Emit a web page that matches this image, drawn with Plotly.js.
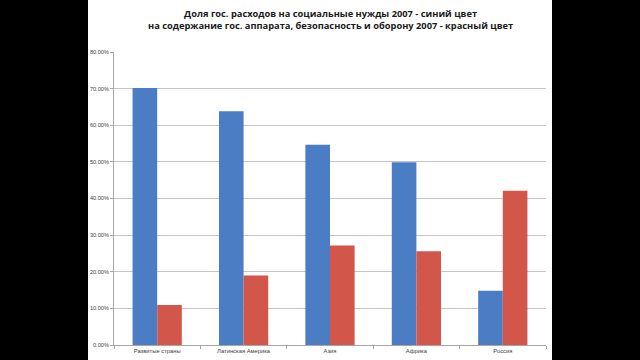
<!DOCTYPE html>
<html>
<head>
<meta charset="utf-8">
<script src="https://cdn.plot.ly/plotly-3.0.1.min.js"></script>
<style>html,body{margin:0;padding:0;background:#fff;}#chart{width:640px;height:360px;}</style>
</head>
<body>
<div id="chart"></div>
<script>
const categories = ["Развитые страны", "Латинская Америка", "Азия", "Африка", "Россия"];
const socialShare = [0.702, 0.638, 0.547, 0.499, 0.148];
const stateDefenseShare = [0.109, 0.190, 0.272, 0.256, 0.421];
const yTickVals = [0, 0.1, 0.2, 0.3, 0.4, 0.5, 0.6, 0.7, 0.8];
const yTickText = ["0.00%", "10.00%", "20.00%", "30.00%", "40.00%", "50.00%", "60.00%", "70.00%", "80.00%"];
const titleLines = ["Доля гос. расходов на социальные нужды 2007 - синий цвет",
                    "на содержание гос. аппарата, безопасность и оборону 2007 - красный цвет"];

const traces = [
  {type: "bar", x: categories, y: socialShare, marker: {color: "#4a7dc4"}, name: "social"},
  {type: "bar", x: categories, y: stateDefenseShare, marker: {color: "#d2574a"}, name: "defense"}
];

const layout = {
  width: 640, height: 360,
  margin: {l: 114, r: 94, t: 52, b: 15},
  paper_bgcolor: "#ffffff",
  plot_bgcolor: "#ffffff",
  showlegend: false,
  barmode: "group",
  bargap: 0.43,
  bargroupgap: 0,
  font: {family: "Liberation Sans, Arial, sans-serif", color: "#404040"},
  annotations: [{
    text: "<b>" + titleLines[0] + "</b><br><b>" + titleLines[1] + "</b>",
    xref: "paper", yref: "paper", x: 0.5, xanchor: "center",
    y: (345 - 5) / 293, yanchor: "top", showarrow: false,
    font: {size: 9.3, color: "#1a1a1a", family: "Open Sans, Liberation Sans, sans-serif"}
  }],
  xaxis: {
    type: "category",
    showline: true, linecolor: "#a6a6a6", linewidth: 1,
    ticks: "outside", ticklen: 3, tickcolor: "#a6a6a6",
    tickson: "boundaries",
    tickfont: {size: 5.8, color: "#404040"},
    showgrid: false
  },
  yaxis: {
    range: [0, 0.8],
    tickvals: yTickVals, ticktext: yTickText,
    showline: true, linecolor: "#a6a6a6", linewidth: 1,
    ticks: "outside", ticklen: 3, tickcolor: "#a6a6a6",
    showgrid: true, gridcolor: "#c4c4c4", gridwidth: 1,
    zeroline: false,
    tickfont: {size: 5.6, color: "#404040"}
  },
  shapes: [
    {type: "rect", xref: "paper", yref: "paper", x0: -0.4, x1: (88 - 114) / 432, y0: -0.2, y1: 1.3,
     fillcolor: "#000000", line: {width: 0}, layer: "above"},
    {type: "rect", xref: "paper", yref: "paper", x0: (552 - 114) / 432, x1: 1.4, y0: -0.2, y1: 1.3,
     fillcolor: "#000000", line: {width: 0}, layer: "above"}
  ]
};

Plotly.newPlot("chart", traces, layout, {displayModeBar: false, staticPlot: true});
</script>
</body>
</html>
